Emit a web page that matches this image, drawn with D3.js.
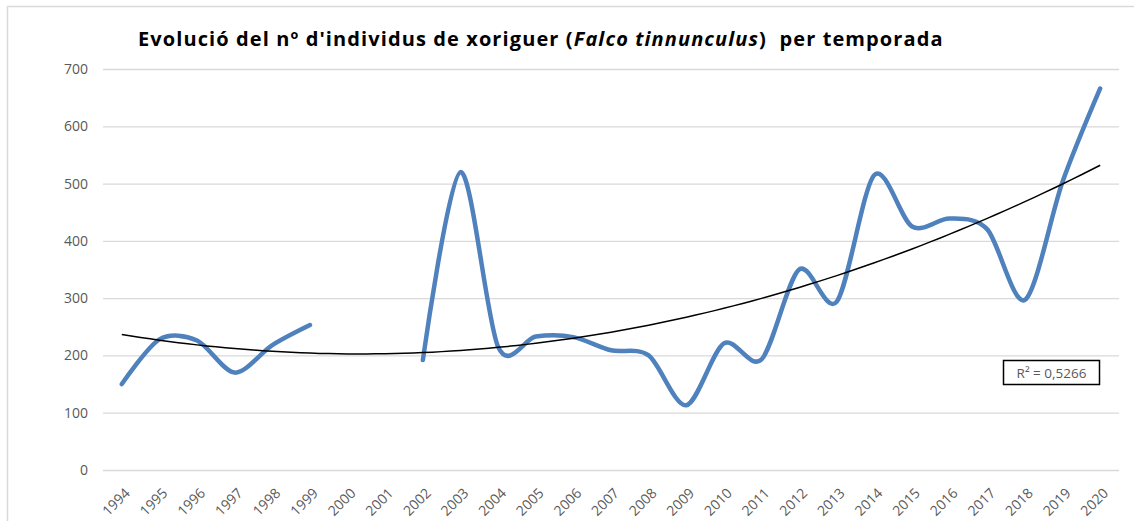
<!DOCTYPE html>
<html>
<head>
<meta charset="utf-8">
<script src="https://cdn.jsdelivr.net/npm/d3@7"></script>
<style>
  html, body { margin: 0; padding: 0; background: #fff; }
  svg { display: block; }
</style>
</head>
<body>
<div id="chart"></div>
<script>
// ── Data ──
const years = ['1994','1995','1996','1997','1998','1999','2000','2001','2002','2003','2004','2005','2006','2007',
  '2008','2009','2010','2011','2012','2013','2014','2015','2016','2017','2018','2019','2020'];
const counts = [150, 228, 226, 170, 218, 253, null, null, 192, 520, 215, 233, 232, 209,
  200, 113, 221, 193, 350, 294, 515, 425, 439, 420, 297, 503, 666];
const yTicks = [0, 100, 200, 300, 400, 500, 600, 700];
const r2Label = 'R² = 0,5266';

const W = 1134, H = 521;
const margin = { top: 69, right: 15, bottom: 51, left: 103 };
const plotW = 1119 - margin.left;
const plotH = 470 - margin.top;

const svg = d3.select('#chart').append('svg')
  .attr('width', W).attr('height', H);

// chart frame
svg.append('rect')
  .attr('x', 7.5).attr('y', 6.5)
  .attr('width', W + 10).attr('height', H + 10)
  .attr('fill', '#fff').attr('stroke', '#d9d9d9').attr('stroke-width', 1.5);

const g = svg.append('g').attr('transform', `translate(${margin.left},${margin.top})`);

const x = d3.scaleBand().domain(years).range([0, plotW]);
const y = d3.scaleLinear().domain([0, 700]).range([plotH, 0]);
const cx = d => x(d) + x.bandwidth() / 2;

// Grid
g.append('g')
  .call(d3.axisLeft(y).tickValues(yTicks).tickSize(-plotW).tickFormat(''))
  .call(s => s.select('.domain').remove())
  .selectAll('line')
  .attr('stroke', '#d9d9d9').attr('stroke-width', 1.3);

// Y labels
g.append('g')
  .call(d3.axisLeft(y).tickValues(yTicks).tickSize(0).tickPadding(15))
  .call(s => s.select('.domain').remove())
  .selectAll('text')
  .attr('font-family', '"Open Sans", sans-serif')
  .attr('font-size', '14px')
  .attr('fill', '#595959');

// X labels
g.append('g')
  .attr('transform', `translate(0,${plotH})`)
  .call(d3.axisBottom(x).tickSize(0).tickPadding(0))
  .call(s => s.select('.domain').remove())
  .selectAll('text')
  .attr('font-family', '"Open Sans", sans-serif')
  .attr('font-size', '14px')
  .attr('fill', '#595959')
  .attr('text-anchor', 'end')
  .attr('dy', '0')
  .attr('transform', 'translate(9,24) rotate(-45)');

// Series line (Excel smoothed)
const pts = years.map((yr, i) => ({ yr, v: counts[i] }));
const line = d3.line()
  .defined(d => d.v !== null)
  .x(d => cx(d.yr))
  .y(d => y(d.v))
  .curve(d3.curveCardinal.tension(0.1));

g.append('path')
  .datum(pts)
  .attr('fill', 'none')
  .attr('stroke', '#4f81bd')
  .attr('stroke-width', 4.5)
  .attr('stroke-linecap', 'round')
  .attr('stroke-linejoin', 'round')
  .attr('d', line);

// Polynomial (order 2) trend line fitted to the data
const obs = pts.map((d, i) => ({ t: i + 1, v: d.v })).filter(d => d.v !== null);
function polyFit2(data) {
  let s = [0, 0, 0, 0, 0], r = [0, 0, 0];
  for (const { t, v } of data) {
    for (let k = 0; k < 5; k++) s[k] += Math.pow(t, k);
    for (let k = 0; k < 3; k++) r[k] += v * Math.pow(t, k);
  }
  const A = [[s[0], s[1], s[2], r[0]], [s[1], s[2], s[3], r[1]], [s[2], s[3], s[4], r[2]]];
  for (let i = 0; i < 3; i++) {
    for (let j = i + 1; j < 3; j++) {
      const f = A[j][i] / A[i][i];
      for (let k = i; k < 4; k++) A[j][k] -= f * A[i][k];
    }
  }
  const c = [0, 0, 0];
  for (let i = 2; i >= 0; i--) {
    let sum = A[i][3];
    for (let k = i + 1; k < 3; k++) sum -= A[i][k] * c[k];
    c[i] = sum / A[i][i];
  }
  return t => c[0] + c[1] * t + c[2] * t * t;
}
const trend = polyFit2(obs);
const trendPts = d3.range(1, years.length + 0.001, 0.25).map(t => ({ t, v: trend(t) }));
const tx = d3.scaleLinear().domain([1, years.length]).range([cx(years[0]), cx(years[years.length - 1])]);

g.append('path')
  .datum(trendPts)
  .attr('fill', 'none')
  .attr('stroke', '#000')
  .attr('stroke-width', 1.5)
  .attr('d', d3.line().x(d => tx(d.t)).y(d => y(d.v)));

// R² label
const rg = svg.append('g');
rg.append('rect')
  .attr('x', 1003.5).attr('y', 360.5)
  .attr('width', 96).attr('height', 24)
  .attr('fill', '#fff').attr('stroke', '#000').attr('stroke-width', 1.5);
rg.append('text')
  .attr('x', 1051.5).attr('y', 377.5)
  .attr('text-anchor', 'middle')
  .attr('font-family', '"Open Sans", sans-serif')
  .attr('font-size', '13.5px')
  .attr('fill', '#595959')
  .text(r2Label);

// Title
const title = svg.append('text')
  .attr('x', 138).attr('y', 46)
  .attr('font-family', '"Open Sans", sans-serif')
  .attr('font-size', '20px')
  .attr('font-weight', 'bold')
  .attr('letter-spacing', '1.1px')
  .attr('fill', '#000')
  .style('white-space', 'pre');
title.append('tspan').text("Evolució del nº d'individus de xoriguer (");
title.append('tspan').attr('font-style', 'italic').text('Falco tinnunculus');
title.append('tspan').text(')  per temporada');
</script>
</body>
</html>
